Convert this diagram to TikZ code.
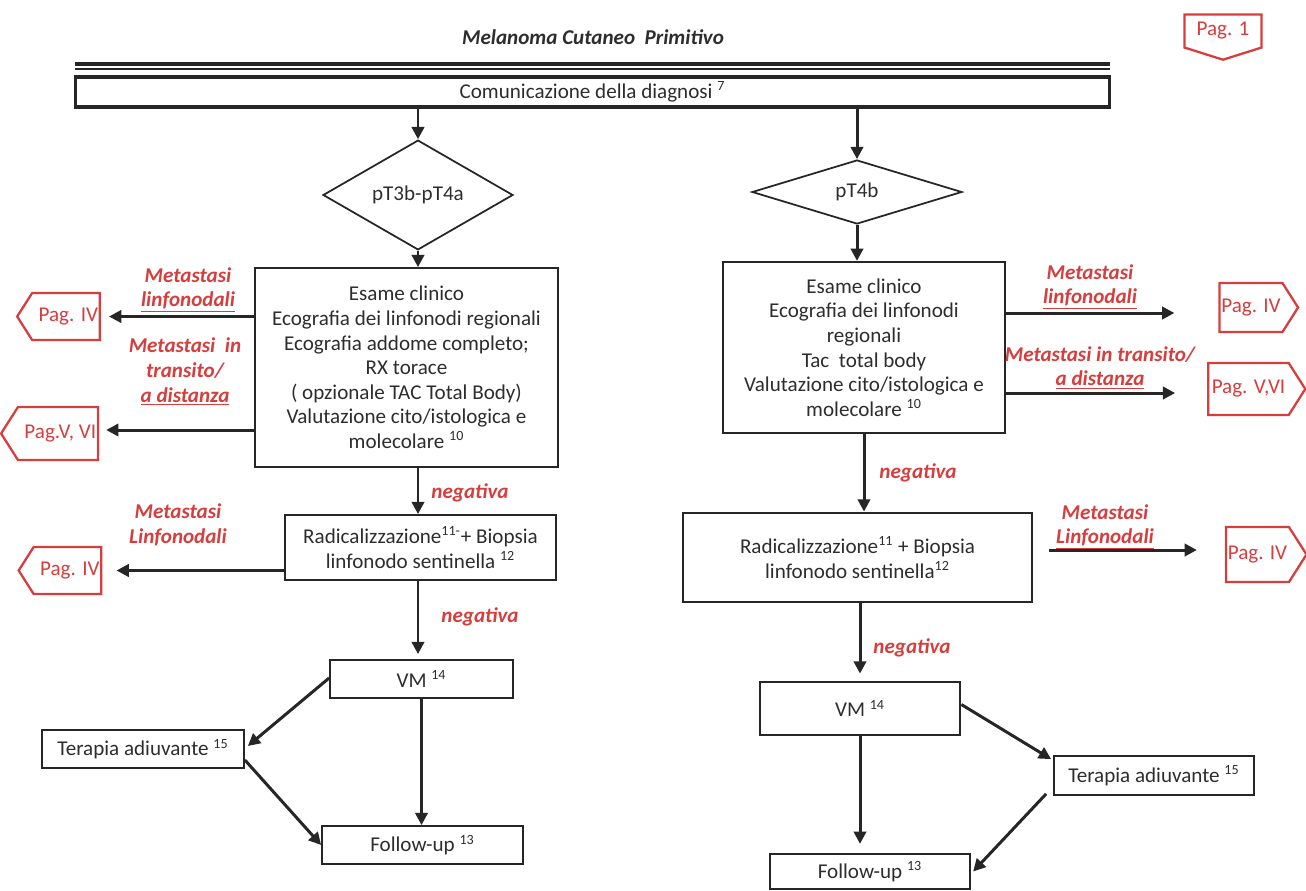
\documentclass[tikz,border=0pt]{standalone}
\usepackage{fontspec}
\setmainfont{Carlito}
\usetikzlibrary{shapes.geometric,shapes.symbols,arrows.meta,calc}
\definecolor{redlab}{RGB}{214,62,62}
\definecolor{txt}{RGB}{45,45,45}
\tikzset{
  fnt/.style={font=\fontsize{12}{14}\selectfont},
  box/.style={draw=black!85, line width=1pt, fnt, text=txt, align=center, inner sep=2pt},
  dia/.style={draw=black!85, line width=1pt, diamond, fnt, text=txt, inner sep=0pt},
  pag/.style={signal, draw=redlab, line width=1.3pt, text=redlab, fnt, inner sep=1pt, signal pointer angle=115},
  lab/.style={text=redlab, font=\fontsize{12}{14}\selectfont\bfseries\itshape, align=center, inner sep=0pt},
  arr/.style={line width=1.7pt, draw=black!85, -{Triangle[length=7pt,width=7pt]}},
}
\begin{document}
\begin{tikzpicture}[x=0.02cm,y=-0.02cm]
\useasboundingbox (0,0) rectangle (1306,890);
% title
\node[lab, text=txt] (title) at (593,37) {Melanoma Cutaneo\ \ Primitivo};
\node[pag, signal to=south, signal pointer angle=145, minimum width=1.54cm, minimum height=0.84cm] (p1) at (1223,31) {Pag. 1};
% double rule and header box
\coordinate (ruleL) at (75,64);
\coordinate (ruleR) at (1110,64);
\draw[line width=2pt, black!85] (ruleL) -- (ruleR);
\draw[line width=0.8pt, black!85] ([yshift=-0.1cm]ruleL) -- ([yshift=-0.1cm]ruleR);
\node[box, line width=1.8pt, minimum width=20.7cm, minimum height=0.6cm] (comm) at (592.5,92) {Comunicazione della diagnosi \textsuperscript{7}};
% diamonds
\node[dia, minimum width=3.8cm, minimum height=1.28cm] (dL) at (418,195) {pT3b-pT4a};
\node[dia, minimum width=4.2cm, minimum height=1.28cm] (dR) at (857,192) {pT4b};
% left column
\node[box, minimum width=6.06cm, minimum height=3.98cm] (lbox) at (406.5,367.5) {Esame clinico\\Ecografia dei linfonodi regionali\\Ecografia addome completo;\\RX torace\\( opzionale TAC Total Body)\\Valutazione cito/istologica e\\molecolare \textsuperscript{10}};
\node[box, minimum width=5.42cm, minimum height=1.3cm] (lrad) at (420.5,547.5) {Radicalizzazione\textsuperscript{11-}+ Biopsia\\linfonodo sentinella \textsuperscript{12}};
\node[box, minimum width=3.66cm, minimum height=0.76cm] (lvm) at (421.5,679) {VM \textsuperscript{14}};
\node[box, minimum width=4.04cm, minimum height=0.76cm] (lter) at (143,749) {Terapia adiuvante \textsuperscript{15}};
\node[box, minimum width=4.02cm, minimum height=0.76cm] (lfu) at (422.5,845) {Follow-up \textsuperscript{13}};
% right column
\node[box, line width=1.3pt, minimum width=5.64cm, minimum height=3.42cm] (rbox) at (864,347.5) {Esame clinico\\Ecografia dei linfonodi\\regionali\\Tac\ \ total body\\Valutazione cito/istologica e\\molecolare \textsuperscript{10}};
\node[box, line width=1.6pt, minimum width=6.98cm, minimum height=1.78cm] (rrad) at (857.5,557.5) {Radicalizzazione\textsuperscript{11} + Biopsia\\linfonodo sentinella\textsuperscript{12}};
\node[box, line width=1.6pt, minimum width=4cm, minimum height=1.06cm] (rvm) at (860,708.5) {VM \textsuperscript{14}};
\node[box, minimum width=4cm, minimum height=0.78cm] (rter) at (1154,775.5) {Terapia adiuvante \textsuperscript{15}};
\node[box, line width=1.3pt, minimum width=4cm, minimum height=0.7cm] (rfu) at (870,871.5) {Follow-up \textsuperscript{13}};
% page references
\node[pag, signal to=west, minimum width=1.56cm, minimum height=0.94cm] (pL1) at (66,316.5) {\ Pag. IV};
\node[pag, signal to=west, minimum width=1.92cm, minimum height=1.06cm] (pL2) at (58,433.5) {\ Pag.V, VI};
\node[pag, signal to=west, minimum width=1.62cm, minimum height=0.94cm] (pL3) at (67.5,570.5) {\ Pag. IV};
\node[pag, signal to=east, minimum width=1.56cm, minimum height=0.98cm] (pR1) at (1251,307.5) {Pag. IV\ };
\node[pag, signal to=east, minimum width=1.94cm, minimum height=1.04cm] (pR2) at (1248.5,389) {Pag. V,VI\ };
\node[pag, signal to=east, minimum width=1.58cm, minimum height=1.1cm] (pR3) at (1257.5,554.5) {Pag. IV\ };
% red labels
\node[lab] (lL1) at (188,290) {Metastasi\\\underline{linfonodali}};
\node[lab] (lL2) at (185,372) {Metastasi\ \ in\\transito/\\\underline{a distanza}};
\node[lab] (lL3) at (178,525) {Metastasi\\Linfonodali};
\node[lab] (lR1) at (1090,287) {Metastasi\\\underline{linfonodali}};
\node[lab] (lR2) at (1100,368) {Metastasi in transito/\\\underline{a distanza}};
\node[lab] (lR3) at (1105,527) {Metastasi\\\underline{Linfonodali}};
\node[lab] (nL1) at (470,493) {negativa};
\node[lab] (nL2) at (480,617) {negativa};
\node[lab] (nR1) at (918,473) {negativa};
\node[lab] (nR2) at (912,648) {negativa};
% connectors
\draw[arr] (comm.south -| dL.north) -- (dL.north);
\draw[arr] (comm.south -| dR.north) -- (dR.north);
\draw[arr] (dL.south) -- (dL.south |- lbox.north);
\draw[arr] (dR.south) -- (dR.south |- rbox.north);
\draw[arr] (lbox.west |- pL1) -- ([xshift=0.16cm]pL1.east);
\draw[arr] ([yshift=0.07cm]lbox.west |- pL2) -- ([xshift=0.14cm,yshift=0.07cm]pL2.east);
\draw[arr] (lrad.west |- pL3) -- ([xshift=0.28cm]pL3.east);
\draw[arr] (dL.south |- lbox.south) -- (dL.south |- lrad.north);
\draw[arr] (dL.south |- lrad.south) -- ([yshift=0.1cm]dL.south |- lvm.north);
\draw[arr] (lvm.south) -- (lvm.south |- lfu.north);
\draw[arr] ([yshift=0.02cm]lvm.west) -- ([xshift=0.06cm,yshift=0.06cm]lter.east);
\draw[arr] ([yshift=-0.22cm]lter.east) -- (lfu.west);
\draw[arr] ([yshift=-0.11cm]rbox.east |- pR1) -- ([xshift=-0.88cm,yshift=-0.11cm]pR1.west);
\draw[arr] ([yshift=-0.08cm]rbox.east |- pR2) -- ([xshift=-0.64cm,yshift=-0.08cm]pR2.west);
\draw[arr] ([xshift=0.32cm,yshift=0.09cm]rrad.east |- pR3) -- ([xshift=-0.56cm,yshift=0.09cm]pR3.west);
\draw[arr] (rbox.south) -- (rbox.south |- rrad.north);
\draw[arr] (rvm.north |- rrad.south) -- ([yshift=0.14cm]rvm.north);
\draw[arr] (rvm.south) -- ([yshift=0.18cm]rvm.south |- rfu.north);
\draw[arr] ([yshift=0.08cm]rvm.east) -- ([xshift=-0.04cm,yshift=-0.08cm]rter.north west);
\draw[arr] ([xshift=-0.14cm,yshift=0.04cm]rter.south west) -- ([xshift=0.04cm]rfu.east);
\end{tikzpicture}
\end{document}
